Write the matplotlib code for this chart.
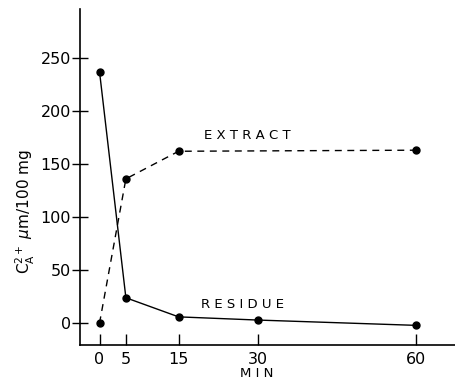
import matplotlib.pyplot as plt

# values
residue_min = [0, 5, 15, 30, 60]
residue_ca = [237, 24, 6, 3, -2]
extract_min = [0, 5, 15, 60]
extract_ca = [0, 136, 162, 163]
x_ticks = [0, 5, 15, 30, 60]
y_ticks = [0, 50, 100, 150, 200, 250]


def main() -> None:
    plt.rcParams["font.family"] = ["DejaVu Sans"]
    fig = plt.figure(figsize=(4.56, 3.81), dpi=100)
    ax = fig.add_axes([80 / 456, 1 - 345 / 381, 376 / 456, 336 / 381])

    ax.plot(residue_min, residue_ca, "-", color="black", lw=1.0,
            marker="o", ms=5, clip_on=False)
    ax.plot(extract_min, extract_ca, color="black", lw=1.0, ls=(0, (5, 4)),
            marker="o", ms=5, clip_on=False)

    ax.set_xlim(-3.7, 67.6)
    ax.set_ylim(-20.5, 296)
    for side in ("top", "right"):
        ax.spines[side].set_visible(False)
    ax.spines["left"].set_linewidth(1.2)
    ax.spines["bottom"].set_linewidth(1.2)

    ax.set_xticks(x_ticks)
    ax.set_yticks(y_ticks)
    ax.tick_params(axis="x", direction="in", length=8, width=1, pad=5,
                   labelsize=11.5)
    ax.tick_params(axis="y", direction="inout", length=11, width=1, pad=1,
                   labelsize=11.5)

    ax.text(28, 177, "E X T R A C T", ha="center", va="center", fontsize=9.5)
    ax.text(27.2, 18, "R E S I D U E", ha="center", va="center", fontsize=9.5)
    ax.set_xlabel("M I N", fontsize=9.5)
    ax.xaxis.set_label_coords((257 - 80) / 376, -0.065)
    fig.text(25 / 456, 1 - 212 / 381, r"C$_\mathrm{A}^{2+}$ $\mu$m/100 mg",
             rotation=90, ha="center", va="center", fontsize=11)

    fig.savefig("out.png", dpi=100)
    plt.close(fig)


if __name__ == "__main__":
    main()
